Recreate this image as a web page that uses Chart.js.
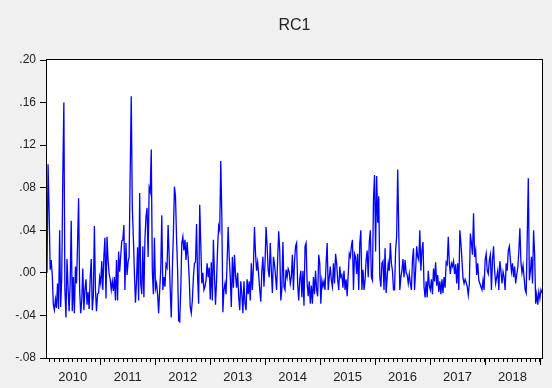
<!DOCTYPE html>
<html>
<head>
<meta charset="utf-8">
<title>RC1</title>
<script src="https://cdn.jsdelivr.net/npm/chart.js@4.4.1/dist/chart.umd.min.js"></script>
<style>
  html, body { margin: 0; padding: 0; background: #f0f0f0; }
  canvas { display: block; }
</style>
</head>
<body>
<canvas id="mycanvas" width="552" height="388"></canvas>
<script>
// weekly series, first observation in the 2nd week of january 2010
var startYear = 2010.03;
var weekStep = 7 / 365.25;

var rc2010 = [0.000, 0.102, 0.058, 0.003, 0.012, -0.002, -0.030, -0.035, -0.025, -0.033,
  -0.010, -0.034, 0.040, -0.032, -0.005, 0.090, 0.160, -0.016, -0.042, 0.013,
  -0.014, -0.036, -0.010, 0.049, -0.036, -0.004, -0.038, 0.006, -0.010, 0.026,
  0.070, -0.016, -0.038, -0.026, 0.004, -0.035, -0.016, -0.006, -0.030, -0.018,
  -0.034, -0.005, 0.013, -0.035, -0.022, 0.044, -0.016, -0.036, -0.020, -0.019,
  -0.004];
var rc2011 = [-0.010, 0.011, -0.016, 0.015, 0.033, -0.024, 0.034, 0.012, -0.001, -0.006,
  -0.016, -0.008, -0.017, -0.004, -0.026, 0.012, -0.026, 0.020, 0.001, 0.016,
  0.030, 0.031, 0.045, -0.016, 0.028, -0.002, 0.010, 0.015, 0.094, 0.166,
  0.062, 0.033, 0.000, -0.028, -0.008, 0.024, -0.026, 0.075, -0.010, -0.020,
  0.025, -0.023, 0.032, 0.053, 0.061, 0.015, 0.080, 0.076, 0.116, 0.002,
  -0.020, 0.033];
var rc2012 = [-0.015, -0.010, -0.020, -0.038, -0.016, 0.003, 0.054, -0.016, -0.004, -0.013,
  0.008, 0.005, 0.045, 0.015, -0.016, -0.042, 0.003, 0.037, 0.081, 0.072,
  0.033, 0.003, -0.045, -0.046, -0.016, 0.028, 0.034, 0.021, 0.031, 0.012,
  0.029, 0.015, -0.004, -0.032, -0.038, -0.026, -0.004, 0.009, 0.010, 0.046,
  -0.004, -0.029, 0.064, 0.028, -0.010, 0.000, -0.016, -0.013, -0.007, 0.009,
  -0.004, 0.005, -0.025];
var rc2013 = [0.010, -0.026, 0.031, -0.002, -0.030, -0.007, 0.024, 0.044, 0.040, 0.105,
  0.053, -0.037, -0.016, -0.010, -0.020, 0.010, 0.043, 0.015, -0.004, -0.032,
  0.015, -0.014, 0.017, -0.002, -0.014, 0.000, -0.022, -0.035, -0.008, -0.020,
  -0.038, -0.008, -0.029, -0.035, -0.006, -0.020, -0.008, -0.026, 0.009, -0.016,
  0.006, 0.043, 0.018, 0.002, 0.010, -0.002, -0.016, -0.027, 0.002, 0.015,
  -0.013, 0.009];
var rc2014 = [0.043, 0.025, 0.003, -0.004, 0.028, 0.002, -0.019, 0.015, 0.008, -0.003,
  -0.016, 0.012, 0.039, 0.021, -0.026, -0.015, 0.029, -0.013, -0.016, 0.003,
  -0.004, 0.004, 0.001, -0.010, -0.004, 0.017,
  -0.016, 0.010, 0.025, 0.028, -0.010, -0.026, -0.006, 0.002, -0.023, 0.002,
  -0.031, 0.025, 0.028, -0.010, -0.022, -0.008, -0.029, -0.012, -0.029, -0.004,
  -0.020, 0.002, -0.016, -0.022, 0.017, 0.009];
var rc2015 = [-0.029, -0.007, -0.013, -0.008, -0.016, 0.009, 0.028, -0.016, -0.004, 0.006,
  -0.007, -0.013, 0.009, -0.010, 0.018, 0.009, -0.007, -0.016, 0.006, -0.004,
  -0.002, -0.014, 0.002, -0.016, -0.006, -0.022, -0.002, 0.018, 0.015, 0.025,
  0.031, -0.016, 0.018, 0.015, -0.001, 0.018, -0.016, 0.028, 0.040, -0.016,
  0.003, -0.016, -0.007, 0.012, 0.021, -0.004, 0.029, 0.040, -0.004, -0.007,
  0.070, 0.092];
var rc2016 = [0.020, 0.091, 0.047, 0.072, -0.004, -0.013, 0.009, 0.011, -0.016, 0.023,
  -0.019, -0.004, 0.009, 0.002, 0.028, 0.009, 0.002, -0.016, -0.016, 0.021,
  0.034, 0.097, 0.039, -0.016, -0.004, 0.002, 0.013, -0.004, 0.012, 0.000,
  -0.002, -0.010, -0.001, -0.010, -0.016, 0.012, 0.023, -0.016, 0.002, 0.025,
  0.015, 0.012, 0.040, 0.002, 0.021, 0.029, -0.013, -0.023, -0.008, -0.023,
  0.002, -0.012];
var rc2017 = [-0.016, -0.006, -0.020, 0.004, -0.008, 0.010, -0.012, -0.002, -0.018, -0.008,
  -0.020, -0.006, -0.019, -0.004, -0.014, 0.010, 0.008, 0.034, 0.009, -0.001,
  0.009, 0.006, 0.011, -0.001, 0.008,
  -0.010, 0.009, -0.016, 0.040, 0.028, 0.012, -0.005, -0.010, -0.006, -0.009,
  -0.013, -0.021, -0.010, 0.037, 0.028, 0.017, 0.056, 0.015, 0.021, -0.002,
  0.009, -0.007, -0.010, -0.013, -0.016, -0.007, -0.016];
var rc2018 = [0.012, 0.018, 0.002, -0.001, 0.012, 0.017, -0.016, 0.012, 0.025, 0.002,
  -0.010, -0.004, 0.002, -0.016, 0.011, 0.002, -0.010, 0.001, -0.004, -0.016,
  0.009, 0.002, 0.021, 0.025, 0.012, 0.001, 0.009, -0.004, 0.006, -0.010,
  -0.002, 0.005, 0.020, 0.042, 0.010, 0.000, 0.007, -0.004, -0.016, -0.019,
  0.034, 0.089, -0.007, 0.002, 0.015, -0.010, 0.040, 0.018, -0.029, -0.020,
  -0.030, -0.018];
var rc2019 = [-0.024, -0.016, -0.019];

var yTicks = [-0.08, -0.04, 0.00, 0.04, 0.08, 0.12, 0.16, 0.20];
var yTickLabels = ['-.08', '-.04', '.00', '.04', '.08', '.12', '.16', '.20'];
var yearLabels = ['2010', '2011', '2012', '2013', '2014', '2015', '2016', '2017', '2018'];

var values = rc2010.concat(rc2011, rc2012, rc2013, rc2014, rc2015, rc2016, rc2017, rc2018, rc2019);
var points = [];
for (var i = 0; i < values.length; i++) {
  points.push({x: startYear + i * weekStep, y: values[i]});
}

var font = "Arial, 'Liberation Sans', sans-serif";

function monthOf(v) {
  var yr = Math.floor(v + 1e-6);
  return Math.round((v - yr) * 12) % 12;
}

var evPlugin = {
  id: 'evFrame',
  beforeDraw: function(chart) {
    var ctx = chart.ctx;
    ctx.save();
    ctx.fillStyle = '#f0f0f0';
    ctx.fillRect(0, 0, chart.width, chart.height);
    var a = chart.chartArea;
    ctx.fillStyle = '#ffffff';
    ctx.fillRect(a.left, a.top, a.right - a.left, a.bottom - a.top);
    ctx.restore();
  },
  afterDraw: function(chart) {
    var ctx = chart.ctx;
    var a = chart.chartArea;
    ctx.save();
    ctx.strokeStyle = '#000';
    ctx.lineWidth = 1;
    ctx.strokeRect(Math.round(a.left) - 0.5, Math.round(a.top) - 0.5,
      Math.round(a.right - a.left) + 1, Math.round(a.bottom - a.top) + 1);
    // longer ticks at year boundaries
    var xs = chart.scales.x;
    ctx.beginPath();
    xs.ticks.forEach(function(t) {
      if (monthOf(t.value) === 0) {
        var px = Math.round(xs.getPixelForValue(t.value)) + 0.5;
        ctx.moveTo(px, a.bottom);
        ctx.lineTo(px, a.bottom + 7);
      }
    });
    ctx.stroke();
    // title
    ctx.fillStyle = '#222';
    ctx.font = '16px ' + font;
    ctx.textAlign = 'center';
    ctx.textBaseline = 'middle';
    ctx.fillText('RC1', (a.left + a.right) / 2, 26);
    ctx.restore();
  }
};

var ctx = document.getElementById('mycanvas');

var chart = new Chart(ctx, {
  type: 'line',
  data: {
    datasets: [{
      label: 'RC1',
      data: points,
      borderColor: '#0000ff',
      borderWidth: 1.3,
      pointRadius: 0,
      tension: 0,
      fill: false
    }]
  },
  options: {
    responsive: false,
    animation: false,
    layout: { padding: { top: 60, right: 10, left: 0, bottom: 0 } },
    plugins: {
      legend: { display: false },
      title: { display: false },
      tooltip: { enabled: false }
    },
    scales: {
      x: {
        type: 'linear',
        min: points[0].x,
        max: points[points.length - 1].x,
        afterBuildTicks: function(scale) {
          var t = [];
          for (var y = 2010; y <= 2019; y++) {
            for (var m = 0; m < 12; m++) {
              var v = y + m / 12;
              if (v >= scale.min && v <= scale.max) t.push({value: v});
            }
          }
          scale.ticks = t;
        },
        afterFit: function(scale) { scale.height = 30; },
        grid: { drawOnChartArea: false, drawTicks: true, tickLength: 4, tickColor: '#000' },
        border: { display: false },
        ticks: {
          autoSkip: false,
          maxRotation: 0,
          padding: 8,
          color: '#222',
          font: { family: font, size: 13 },
          callback: function(value) {
            if (monthOf(value) !== 6) return '';
            return yearLabels[Math.floor(value) - 2010];
          }
        }
      },
      y: {
        min: -0.08,
        max: 0.20,
        afterBuildTicks: function(scale) {
          scale.ticks = yTicks.map(function(v) { return {value: v}; });
        },
        afterFit: function(scale) { scale.width = 47; },
        grid: { drawOnChartArea: false, drawTicks: true, tickLength: 7, tickColor: '#000' },
        border: { display: false },
        ticks: {
          padding: 4,
          color: '#222',
          font: { family: font, size: 12 },
          callback: function(value) {
            for (var k = 0; k < yTicks.length; k++) {
              if (Math.abs(yTicks[k] - value) < 1e-6) return yTickLabels[k];
            }
            return '';
          }
        }
      }
    }
  },
  plugins: [evPlugin]
});
</script>
</body>
</html>
